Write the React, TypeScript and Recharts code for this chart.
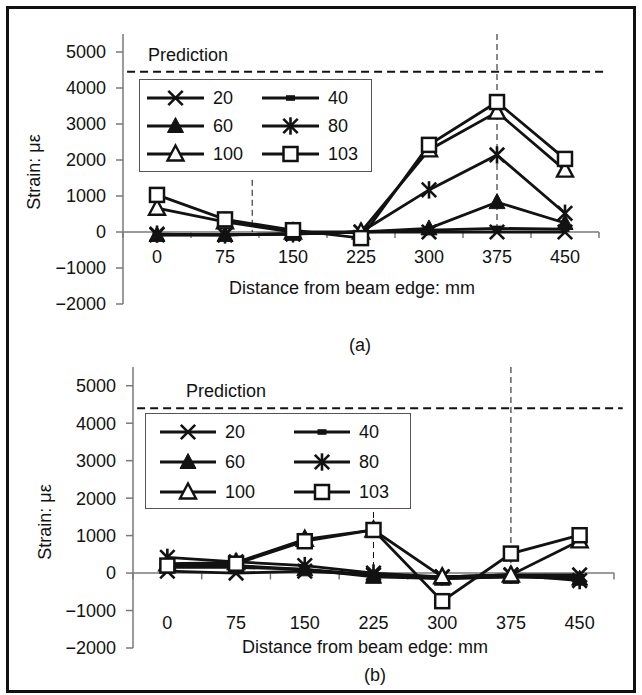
import React from "react";
import { LineChart, Line, XAxis, YAxis, ReferenceLine, Legend } from "recharts";

// distance from beam edge (mm) and load steps (kN)
const positions = [0, 75, 150, 225, 300, 375, 450];
const bandEdges = [-37.5, 37.5, 112.5, 187.5, 262.5, 337.5, 412.5, 487.5];
const yTicks = [-2000, -1000, 0, 1000, 2000, 3000, 4000, 5000];
const loads = ["20", "40", "60", "80", "100", "103"];

// panel (a) strains, με
const a20 = [-80, -80, -50, 0, 0, 0, 0];
const a40 = [-80, -80, -60, 0, 50, 100, 80];
const a60 = [-80, -80, -50, 0, 100, 830, 250];
const a80 = [-60, -80, -50, 0, 1170, 2140, 520];
const a100 = [660, 280, 0, 0, 2280, 3330, 1720];
const a103 = [1030, 350, 50, -170, 2420, 3610, 2030];

// panel (b) strains, με
const b20 = [50, 0, 50, -50, -100, -50, -50];
const b40 = [150, 150, 100, -50, -150, -100, -100];
const b60 = [200, 200, 100, -100, -150, -100, -150];
const b80 = [420, 300, 200, 0, -100, -50, -200];
const b100 = [250, 280, 900, 1150, -100, -50, 860];
const b103 = [200, 250, 850, 1150, -750, 520, 1010];

const predictionA = 4450;
const predictionB = 4400;
const gaugesA = [105, 375];
const gaugeTopsA = [1450, 5500];
const gaugesB = [225, 375];
const gaugeTopsB = [1630, 5500];

const FONT = '"Liberation Sans", Arial, Helvetica, sans-serif';
const INK = "#121212";
const AXIS = "#7a7a7a";

const shapeFor: Record<string, string> = {
  "20": "cross",
  "40": "dash",
  "60": "triFill",
  "80": "star",
  "100": "triOpen",
  "103": "square",
};

function buildRows(series: number[][]) {
  return positions.map((pos, i) => {
    const row: Record<string, number> = { pos };
    loads.forEach((l, k) => (row[l] = series[k][i]));
    return row;
  });
}

const rowsA = buildRows([a20, a40, a60, a80, a100, a103]);
const rowsB = buildRows([b20, b40, b60, b80, b100, b103]);

function Marker({ shape, cx, cy }: { shape: string; cx: number; cy: number }) {
  const s = 7.2;
  if (shape === "cross" || shape === "star") {
    return (
      <g stroke={INK} strokeWidth={2.6}>
        <line x1={cx - s} y1={cy - s} x2={cx + s} y2={cy + s} />
        <line x1={cx - s} y1={cy + s} x2={cx + s} y2={cy - s} />
        {shape === "star" && <line x1={cx} y1={cy - s - 1.5} x2={cx} y2={cy + s + 1.5} />}
      </g>
    );
  }
  if (shape === "dash") {
    return <rect x={cx - 4.5} y={cy - 2.8} width={9} height={5.6} fill={INK} />;
  }
  if (shape === "triFill" || shape === "triOpen") {
    const open = shape === "triOpen";
    return (
      <polygon
        points={`${cx},${cy - 8.5} ${cx + 8},${cy + 6.5} ${cx - 8},${cy + 6.5}`}
        fill={open ? "#fff" : INK}
        stroke={INK}
        strokeWidth={open ? 2.4 : 1}
      />
    );
  }
  return (
    <rect x={cx - 7} y={cy - 7} width={14} height={14} fill="#fff" stroke={INK} strokeWidth={2.5} />
  );
}

const fmtY = (v: number) => (v < 0 ? `\u2212${Math.abs(v)}` : `${v}`);

type PanelCfg = {
  rows: Record<string, number>[];
  plot: { left: number; right: number; top: number; bottom: number };
  prediction: number;
  gauges: number[];
  gaugeTops: number[];
  labelLift: number;
  legend: {
    left: number;
    top: number;
    width: number;
    height: number;
    padX: number;
    colW: number;
    rowY0: number;
    rowH: number;
    lineLen: number;
  };
};

function LegendBox({ payload, cfg }: { payload?: any[]; cfg: PanelCfg["legend"] }) {
  const items = [...(payload || [])].sort(
    (p, q) => loads.indexOf(String(p.value)) - loads.indexOf(String(q.value))
  );
  return (
    <div
      style={{
        position: "relative",
        width: cfg.width,
        height: cfg.height,
        boxSizing: "border-box",
        border: "1px solid #555",
        background: "#fff",
        fontFamily: FONT,
        fontSize: 18,
        color: INK,
      }}
    >
      {items.map((entry: any, i: number) => {
        const col = i % 2;
        const row = Math.floor(i / 2);
        const name = String(entry.value);
        return (
          <div
            key={name}
            style={{
              position: "absolute",
              left: cfg.padX + col * cfg.colW,
              top: cfg.rowY0 + row * cfg.rowH - 11,
              height: 22,
              display: "flex",
              alignItems: "center",
              whiteSpace: "nowrap",
            }}
          >
            <svg width={cfg.lineLen} height={22} style={{ display: "block" }}>
              <line x1={0} y1={11} x2={cfg.lineLen} y2={11} stroke={INK} strokeWidth={2.8} />
              <Marker shape={shapeFor[name]} cx={cfg.lineLen / 2} cy={11} />
            </svg>
            <span style={{ marginLeft: 9, lineHeight: "22px" }}>{name}</span>
          </div>
        );
      })}
    </div>
  );
}

function Panel({ cfg }: { cfg: PanelCfg }) {
  const yW = 100;
  const padT = 12;
  const padR = 22;
  const xH = 14;
  const plotW = cfg.plot.right - cfg.plot.left;
  const plotH = cfg.plot.bottom - cfg.plot.top;
  const width = yW + plotW + padR;
  const height = padT + plotH + xH;
  const originLeft = cfg.plot.left - yW;
  const originTop = cfg.plot.top - padT;

  return (
    <div style={{ position: "absolute", left: originLeft, top: originTop }}>
      <LineChart
        width={width}
        height={height}
        data={cfg.rows}
        margin={{ top: padT, right: padR, bottom: 0, left: 0 }}
      >
        <XAxis
          dataKey="pos"
          type="number"
          domain={[-37.5, 487.5]}
          ticks={positions}
          interval={0}
          height={xH}
          axisLine={false}
          tickLine={false}
          tickSize={0}
          tickMargin={0}
          allowDataOverflow
          tick={(p: any) => (
            <text
              x={p.x}
              y={p.y - cfg.labelLift}
              textAnchor="middle"
              dominantBaseline="central"
              fontFamily={FONT}
              fontSize={18}
              fill={INK}
            >
              {p.payload.value}
            </text>
          )}
        />
        <YAxis
          type="number"
          domain={[-2000, 5500]}
          ticks={yTicks}
          interval={0}
          width={yW}
          allowDataOverflow
          axisLine={{ stroke: AXIS, strokeWidth: 1.5 }}
          tickLine={{ stroke: AXIS, strokeWidth: 1.5 }}
          tickSize={7}
          tickMargin={10}
          tickFormatter={fmtY}
          tick={{ fontFamily: FONT, fontSize: 18, fill: INK }}
        />
        <ReferenceLine y={0} stroke={AXIS} strokeWidth={1.5} />
        {bandEdges.map((e) => (
          <ReferenceLine
            key={`edge-${e}`}
            segment={[
              { x: e, y: 0 },
              { x: e, y: -170 },
            ]}
            stroke={AXIS}
            strokeWidth={1.5}
          />
        ))}
        {cfg.gauges.map((g, i) => (
          <ReferenceLine
            key={`gauge-${g}`}
            segment={[
              { x: g, y: cfg.gaugeTops[i] },
              { x: g, y: 0 },
            ]}
            stroke={INK}
            strokeWidth={1}
            strokeDasharray="6 4"
          />
        ))}
        <ReferenceLine
          segment={[
            { x: -33, y: cfg.prediction },
            { x: 497, y: cfg.prediction },
          ]}
          ifOverflow="visible"
          stroke={INK}
          strokeWidth={2}
          strokeDasharray="8 5"
        />
        {loads.map((l) => (
          <Line
            key={l}
            dataKey={l}
            name={l}
            type="linear"
            stroke={INK}
            strokeWidth={2.8}
            isAnimationActive={false}
            activeDot={false}
            dot={(p: any) => <Marker key={`${l}-${p.index}`} shape={shapeFor[l]} cx={p.cx} cy={p.cy} />}
          />
        ))}
        <Legend
          layout="horizontal"
          verticalAlign="middle"
          align="center"
          wrapperStyle={{
            left: cfg.legend.left - originLeft,
            top: cfg.legend.top - originTop,
            width: cfg.legend.width,
            height: cfg.legend.height,
          }}
          content={(props: any) => <LegendBox payload={props.payload} cfg={cfg.legend} />}
        />
      </LineChart>
    </div>
  );
}

const panelA: PanelCfg = {
  rows: rowsA,
  plot: { left: 123, right: 599, top: 34, bottom: 304 },
  prediction: predictionA,
  gauges: gaugesA,
  gaugeTops: gaugeTopsA,
  labelLift: 47,
  legend: { left: 139, top: 79, width: 233, height: 93, padX: 7, colW: 115, rowY0: 18, rowH: 28, lineLen: 57 },
};

const panelB: PanelCfg = {
  rows: rowsB,
  plot: { left: 133, right: 614, top: 367, bottom: 648 },
  prediction: predictionB,
  gauges: gaugesB,
  gaugeTops: gaugeTopsB,
  labelLift: 25,
  legend: { left: 145, top: 413, width: 266, height: 96, padX: 14, colW: 134, rowY0: 18, rowH: 30, lineLen: 56 },
};

const textStyle: React.CSSProperties = {
  position: "absolute",
  fontFamily: FONT,
  fontSize: 18,
  color: INK,
  whiteSpace: "nowrap",
  lineHeight: "20px",
};

function Caption({ x, y, children, rotate }: { x: number; y: number; children: React.ReactNode; rotate?: boolean }) {
  return (
    <div
      style={{
        ...textStyle,
        left: x,
        top: y,
        transform: `translate(-50%, -50%)${rotate ? " rotate(-90deg)" : ""}`,
      }}
    >
      {children}
    </div>
  );
}

export default function App() {
  return (
    <div style={{ position: "absolute", left: 0, top: 0, width: 642, height: 695, background: "#fff" }}>
      <div
        style={{
          position: "absolute",
          left: 6,
          top: 6,
          width: 630,
          height: 687,
          boxSizing: "border-box",
          border: "3px solid #111",
        }}
      />
      <Panel cfg={panelA} />
      <Panel cfg={panelB} />

      <div style={{ ...textStyle, left: 148, top: 45 }}>Prediction</div>
      <div style={{ ...textStyle, left: 186, top: 381 }}>Prediction</div>

      <Caption x={352} y={288}>Distance from beam edge: mm</Caption>
      <Caption x={365} y={647}>Distance from beam edge: mm</Caption>
      <Caption x={34} y={172} rotate>Strain: με</Caption>
      <Caption x={45} y={522} rotate>Strain: με</Caption>
      <Caption x={360} y={345}>(a)</Caption>
      <Caption x={375} y={675}>(b)</Caption>
    </div>
  );
}
